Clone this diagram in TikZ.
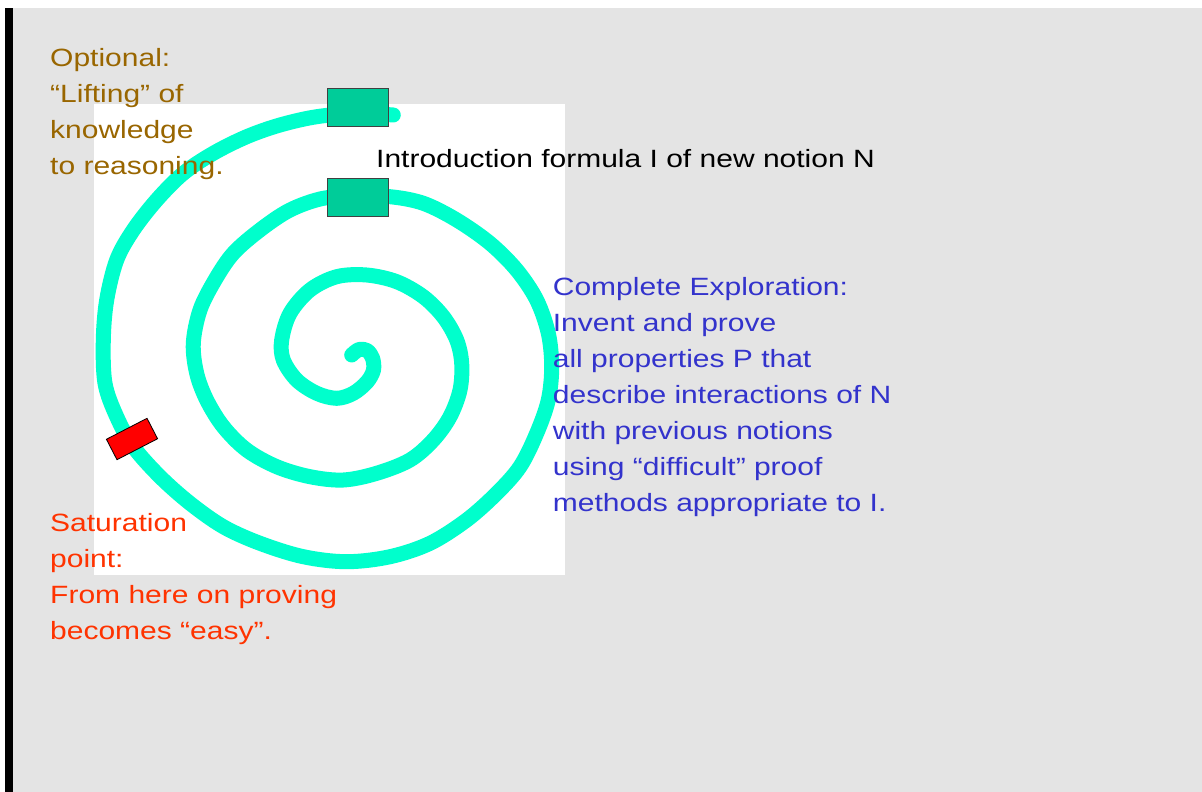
\documentclass[tikz,border=0pt]{standalone}
\usepackage{fontspec}
\setmainfont{Liberation Sans}[FakeStretch=1.2]
\definecolor{bggray}{HTML}{E4E4E4}
\definecolor{spiralc}{HTML}{00FFCC}
\definecolor{tealc}{HTML}{00CC99}
\definecolor{brownc}{HTML}{996600}
\definecolor{bluec}{HTML}{3333CC}
\definecolor{redc}{HTML}{FF3300}
\begin{document}
\begin{tikzpicture}[x=1pt,y=-1pt,
  lbl/.style={anchor=base west, align=left, inner sep=0pt, font=\fontsize{25}{36}\selectfont},
  spiral/.style={draw=spiralc, line width=15pt, line cap=round, line join=round},
  tealbox/.style={draw=black!75, fill=tealc, line width=1pt, minimum width=61pt, minimum height=37.7pt, inner sep=0pt},
  redbox/.style={draw=black, fill=red, line width=0.8pt, minimum width=45.7pt, minimum height=23pt, inner sep=0pt}]
\useasboundingbox (0,0) rectangle (1202,792);
\fill[bggray] (5,8) rectangle (1202,792);
\fill[black] (5,8) rectangle (13,792);
\fill[white] (94,104) rectangle (565,575);
\draw[spiral] plot[smooth, tension=0.55] coordinates {
(351.7,355) (359,349.5) (367,350.5) (372.5,358) (373.5,370) (367,382) (353.3,393.3)
(336.7,398.3) (316.7,393.3) (296.7,380) (283.3,360) (281.7,340) (290,313.3)
(310,290) (336.7,276.7) (366.7,275) (396.7,281.7) (423.3,296.7) (443.3,316.7)
(456.7,340) (461.7,363.3) (460,390) (450,416.7) (433.3,440) (410,460)
(376.7,473.3) (343.3,480) (310,476.7) (276.7,466.7) (246.7,450) (223.3,426.7)
(206.7,400) (196.7,373.3) (193.3,343.3) (200,310) (215,280) (233.3,253.3)
(260,230) (290,210) (323.3,198.3) (356.7,196.7) (390,196.7) (423.3,203.3)
(456.7,220) (490,243.3) (516.7,270) (536.7,300) (548.3,333.3) (551.7,366.7)
(548.3,400) (536.7,433.3) (520,466.7) (496.7,493.3) (466.7,520) (430,543.3)
(390,556.7) (346.7,561.7) (303.3,556.7) (260,543.3) (223.3,526.7) (190,503.3)
(160,476.7) (133.3,446.7) (116.7,416.7) (105,383.3) (103.3,340) (106.7,300)
(116.7,260) (133.3,230) (156.7,200) (183.3,173.3) (213.3,153.3) (246.7,136.7)
(280,125) (316.7,116.7) (356.7,113.3) (393.3,115)};
\node[tealbox] (box1) at (357.8,107.2) {};
\node[tealbox] (box2) at (357.8,197.8) {};
\node[redbox, rotate=27.3] (sat) at (132,439) {};
\node[lbl, text=brownc] (opt) at (50,174) {Optional:\\“Lifting” of\\knowledge\\to reasoning.};
\node[lbl, text=black] (intro) at (376,167) {Introduction formula I of new notion N};
\node[lbl, text=bluec] (expl) at (552.7,511) {Complete Exploration:\\Invent and prove\\all properties P that\\describe interactions of N\\with previous notions\\using “difficult” proof\\methods appropriate to I.};
\node[lbl, text=redc] (satl) at (50,639) {Saturation\\point:\\From here on proving\\becomes “easy”.};
\end{tikzpicture}
\end{document}
